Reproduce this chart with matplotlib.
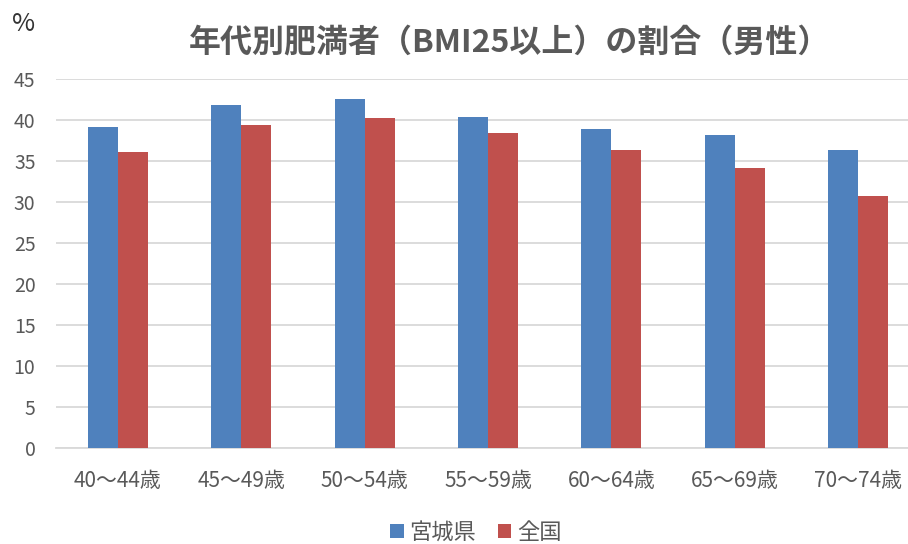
import matplotlib.pyplot as plt
import numpy as np

plt.rcParams['font.family'] = ['Noto Sans CJK JP', 'DejaVu Sans']

# data
age_groups = ["40～44歳", "45～49歳", "50～54歳", "55～59歳", "60～64歳", "65～69歳", "70～74歳"]
miyagi = [39.1, 41.8, 42.6, 40.4, 38.9, 38.2, 36.3]
national = [36.1, 39.4, 40.2, 38.4, 36.3, 34.1, 30.7]
series_names = ["宮城県", "全国"]
y_ticks = [0, 5, 10, 15, 20, 25, 30, 35, 40, 45]

text_color = "#595959"
blue = "#4f81bd"
red = "#c0504d"

fig = plt.figure(figsize=(9.08, 5.44), dpi=100)
# plot area runs slightly past the right edge, as in the reference
ax = fig.add_axes([0.062, 0.176, 0.951, 0.679])

x = np.arange(len(age_groups))
width = 0.243

ax.bar(x - width / 2, miyagi, width, color=blue, label=series_names[0], zorder=3)
ax.bar(x + width / 2, national, width, color=red, label=series_names[1], zorder=3)

ax.set_xlim(-0.5, len(age_groups) - 0.5)
ax.set_ylim(0, 45)
ax.set_yticks(y_ticks)
ax.set_xticks(x)
ax.set_xticklabels(age_groups)
ax.tick_params(axis="both", length=0, labelsize=14, colors=text_color)
ax.tick_params(axis="x", pad=16, labelsize=15)
ax.tick_params(axis="y", pad=15)

# gridlines and axis line
ax.grid(axis="y", color="#d9d9d9", linewidth=1.3, zorder=0)
for side in ["top", "right", "left"]:
    ax.spines[side].set_visible(False)
ax.spines["bottom"].set_color("#d9d9d9")
ax.spines["bottom"].set_linewidth(1.3)

# title and unit
fig.text(0.561, 0.922, "年代別肥満者（BMI25以上）の割合（男性）", ha="center", va="center",
         fontsize=23, fontweight="bold", color=text_color)
fig.text(0.026, 0.955, "%", ha="center", va="center", fontsize=18, color="#333333")

fig.legend(loc="center", bbox_to_anchor=(0.524, 0.022), ncol=2, frameon=False,
           fontsize=16, handlelength=0.6, handleheight=0.6, handletextpad=0.25,
           columnspacing=1.0, labelcolor=text_color, borderpad=0.1)

fig.savefig("out.png", dpi=100)
